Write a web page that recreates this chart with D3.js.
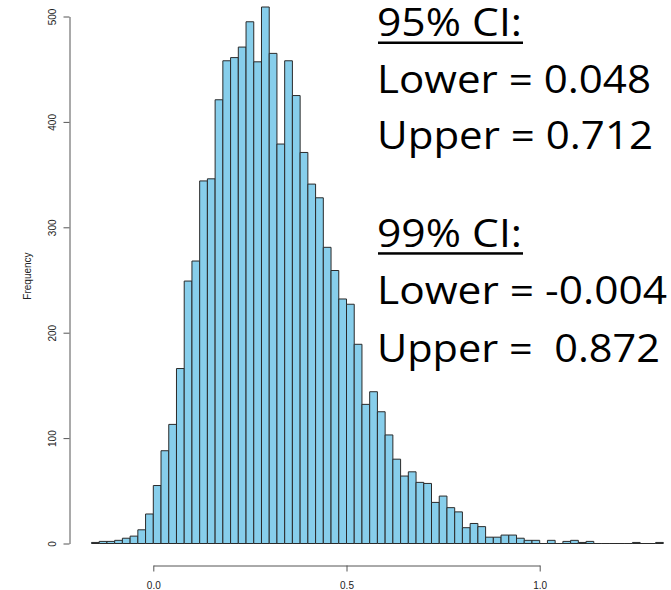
<!DOCTYPE html>
<html>
<head>
<meta charset="utf-8">
<script src="https://cdn.jsdelivr.net/npm/d3@7"></script>
<style>
  body { margin: 0; background: #fff; }
  svg { display: block; }
</style>
</head>
<body>
<div id="chart"></div>
<script>
// DATA //
// histogram bins: start, width, counts
const binStart = -0.16
const binWidth = 0.02
const counts = [
    1, 2, 2, 3, 5, 7, 13, 28, 55, 88,
    113, 166, 249, 268, 344, 346, 421, 458, 461, 471,
    495, 457, 509, 465, 379, 458, 425, 371, 341, 328,
    281, 259, 232, 227, 189, 132, 144, 125, 103, 80,
    64, 68, 58, 57, 39, 45, 34, 30, 15, 19,
    16, 6, 6, 8, 8, 5, 3, 3, 0, 3,
    0, 2, 3, 1, 2, 0, 0, 0, 0, 0,
    1, 0, 0, 1
]
const xTicks = [0.0, 0.5, 1.0]
const yTicks = [0, 100, 200, 300, 400, 500]
const yLabel = "Frequency"

// CI annotation text
const ciBlocks = [
    { title: "95% CI:", lower: "Lower = 0.048", upper: "Upper = 0.712" },
    { title: "99% CI:", lower: "Lower = -0.004", upper: "Upper =  0.872" },
]

const bins = counts.map((c, i) => ({
    x0: binStart + i * binWidth,
    x1: binStart + (i + 1) * binWidth,
    count: c
}))

// Set dimensions
const width = 671
const height = 590

const svg = d3.select("#chart")
    .append("svg")
    .attr("width", width)
    .attr("height", height)

// Create scales
const xScale = d3.scaleLinear()
    .domain([0, 1])
    .range([153.3, 539.7])

const yScale = d3.scaleLinear()
    .domain([0, 500])
    .range([543.5, 16.5])

// bars as closed paths so empty bins still show as a flat line (like R)
svg.append("g")
    .selectAll("path")
    .data(bins)
    .join("path")
    .attr("d", d => {
        const x0 = xScale(d.x0), x1 = xScale(d.x1)
        const y0 = yScale(0), y1 = yScale(d.count)
        return `M${x0},${y0}V${y1}H${x1}V${y0}Z`
    })
    .attr("fill", "#87ceeb")
    .attr("stroke", "#2a2a2a")
    .attr("stroke-width", 1)

// y axis (R style, rotated labels)
const yAxis = svg.append("g")
    .attr("transform", "translate(69.5,0)")
    .call(d3.axisLeft(yScale).tickValues(yTicks).tickSize(6).tickSizeOuter(0))

yAxis.select(".domain").attr("stroke", "#555")
yAxis.selectAll(".tick line").attr("stroke", "#555")
yAxis.selectAll(".tick text")
    .attr("font-family", "Liberation Sans, Arial, sans-serif")
    .attr("font-size", 10)
    .attr("fill", "#222")
    .attr("text-anchor", "middle")
    .attr("x", 0)
    .attr("y", -13.5)
    .attr("dy", 0)
    .attr("transform", "rotate(-90)")

svg.append("text")
    .attr("transform", "translate(31,276) rotate(-90)")
    .attr("text-anchor", "middle")
    .attr("font-family", "Liberation Sans, Arial, sans-serif")
    .attr("font-size", 10)
    .attr("fill", "#222")
    .text(yLabel)

// x axis
const xAxis = svg.append("g")
    .attr("transform", "translate(0,565.5)")
    .call(d3.axisBottom(xScale).tickValues(xTicks).tickFormat(d3.format(".1f")).tickSize(6).tickSizeOuter(0))

xAxis.select(".domain").attr("stroke", "#555")
xAxis.selectAll(".tick line").attr("stroke", "#555")
xAxis.selectAll(".tick text")
    .attr("font-family", "Liberation Sans, Arial, sans-serif")
    .attr("font-size", 10)
    .attr("fill", "#222")
    .attr("y", 23.5)
    .attr("dy", 0)

// CI annotations
const textX = 377
const blockTops = [36, 246.7]       // baselines of the titles
const lineGap = [56.5, 57.5]
const lenTitle = 145
const lenLower = [274, 290]
const lenUpper = [276, 283]

function addLine(g, x, y, len, str) {
    g.append("text")
        .attr("x", x).attr("y", y)
        .attr("xml:space", "preserve")
        .style("white-space", "pre")
        .attr("textLength", len)
        .attr("lengthAdjust", "spacingAndGlyphs")
        .text(str.replace(/  /g, " \u00a0"))
}

ciBlocks.forEach((b, i) => {
    const g = svg.append("g")
        .attr("font-family", "'Open Sans', sans-serif")
        .attr("font-size", 39)
        .attr("fill", "#000")

    const y0 = blockTops[i]
    addLine(g, textX, y0, lenTitle, b.title)

    g.append("rect")
        .attr("x", textX + 1)
        .attr("y", y0 + 5.5)
        .attr("width", lenTitle)
        .attr("height", 2.5)
        .attr("fill", "#000")

    addLine(g, textX, y0 + lineGap[i], lenLower[i], b.lower)
    addLine(g, textX, y0 + 2 * lineGap[i], lenUpper[i], b.upper)
})
</script>
</body>
</html>
